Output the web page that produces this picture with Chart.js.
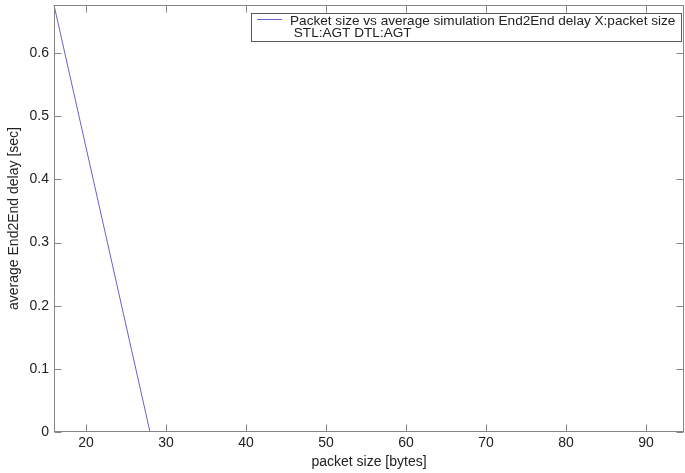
<!DOCTYPE html>
<html>
<head>
<meta charset="utf-8">
<script src="https://cdn.jsdelivr.net/npm/chart.js@4/dist/chart.umd.min.js"></script>
<style>
    html, body { margin: 0; padding: 0; background: #fff; overflow: hidden; }
    #wrap { width: 685px; height: 473px; }
</style>
</head>
<body>
<div id="wrap"><canvas id="delayChart" width="685" height="473"></canvas></div>
<script>
// data
const packetSizes = [16, 28];
const avgDelay = [0.676, 0];
const xTicks = [20, 30, 40, 50, 60, 70, 80, 90];
const yTicks = [0, 0.1, 0.2, 0.3, 0.4, 0.5, 0.6];
const legendLines = ["Packet size vs average simulation End2End delay X:packet size", " STL:AGT DTL:AGT"];

const FONT = "'Liberation Sans', Arial, sans-serif";
const AXIS_GRAY = "#858585";
const LINE_BLUE = "#6464c8";
const TEXT = "#222";

// MATLAB-ish frame: box, inward ticks, and the boxed legend
const matlabFrame = {
    id: "matlabFrame",
    afterDraw(chart) {
        const { ctx, chartArea: a, scales } = chart;
        const L = Math.round(a.left) + 0.5, R = Math.round(a.right) - 0.5;
        const T = Math.round(a.top) + 0.5, B = Math.round(a.bottom) - 0.5;
        ctx.save();
        ctx.strokeStyle = AXIS_GRAY;
        ctx.lineWidth = 1;
        ctx.strokeRect(L, T, R - L, B - T);
        ctx.beginPath();
        scales.x.ticks.forEach(t => {
            const px = Math.round(scales.x.getPixelForValue(t.value)) + 0.5;
            ctx.moveTo(px, B); ctx.lineTo(px, B - 7);
            ctx.moveTo(px, T); ctx.lineTo(px, T + 7);
        });
        scales.y.ticks.forEach(t => {
            const py = Math.round(scales.y.getPixelForValue(t.value)) + 0.5;
            ctx.moveTo(L, py); ctx.lineTo(L + 7, py);
            ctx.moveTo(R, py); ctx.lineTo(R - 7, py);
        });
        ctx.stroke();

        // legend box
        const bx = 251.5, by = 13.5, bw = 430, bh = 28;
        ctx.fillStyle = "#fff";
        ctx.fillRect(bx, by, bw, bh);
        ctx.strokeStyle = "#5a5a5a";
        ctx.strokeRect(bx, by, bw, bh);
        ctx.strokeStyle = LINE_BLUE;
        ctx.beginPath();
        ctx.moveTo(257, 19.5); ctx.lineTo(282, 19.5);
        ctx.stroke();
        ctx.fillStyle = TEXT;
        ctx.font = "13.6px " + FONT;
        ctx.textBaseline = "middle";
        ctx.fillText(legendLines[0], 290, 21);
        ctx.fillText(legendLines[1], 290, 33);
        ctx.restore();
    }
};

new Chart(document.getElementById("delayChart"), {
    type: "line",
    data: {
        datasets: [{
            label: legendLines.join("\n"),
            data: packetSizes.map((x, i) => ({ x: x, y: avgDelay[i] })),
            borderColor: LINE_BLUE,
            borderWidth: 1,
            pointRadius: 0,
            fill: false,
            tension: 0
        }]
    },
    options: {
        responsive: false,
        animation: false,
        clip: false,
        layout: { padding: { top: 5, right: 1, left: 0, bottom: 0 } },
        plugins: { legend: { display: false }, tooltip: { enabled: false } },
        scales: {
            x: {
                type: "linear",
                min: 16,
                max: 94.75,
                afterBuildTicks: s => { s.ticks = xTicks.map(v => ({ value: v })); },
                afterFit: s => { s.height = 41; s.paddingLeft = 0; s.paddingRight = 0; },
                grid: { display: false, drawTicks: false },
                border: { display: false },
                ticks: { color: TEXT, font: { family: FONT, size: 14 }, padding: 3, maxRotation: 0 },
                title: { display: true, text: "packet size [bytes]", color: TEXT, font: { family: FONT, size: 14 }, padding: { top: 0, bottom: 2 } }
            },
            y: {
                type: "linear",
                min: 0,
                max: 0.676,
                afterBuildTicks: s => { s.ticks = yTicks.map(v => ({ value: v })); },
                afterFit: s => { s.width = 54; s.paddingTop = 0; s.paddingBottom = 0; },
                grid: { display: false, drawTicks: false },
                border: { display: false },
                ticks: { color: TEXT, font: { family: FONT, size: 14 }, padding: 5, callback: v => String(v) },
                title: { display: true, text: "average End2End delay [sec]", color: TEXT, font: { family: FONT, size: 14 }, padding: { top: 6, bottom: 0 } }
            }
        }
    },
    plugins: [matlabFrame]
});
</script>
</body>
</html>
